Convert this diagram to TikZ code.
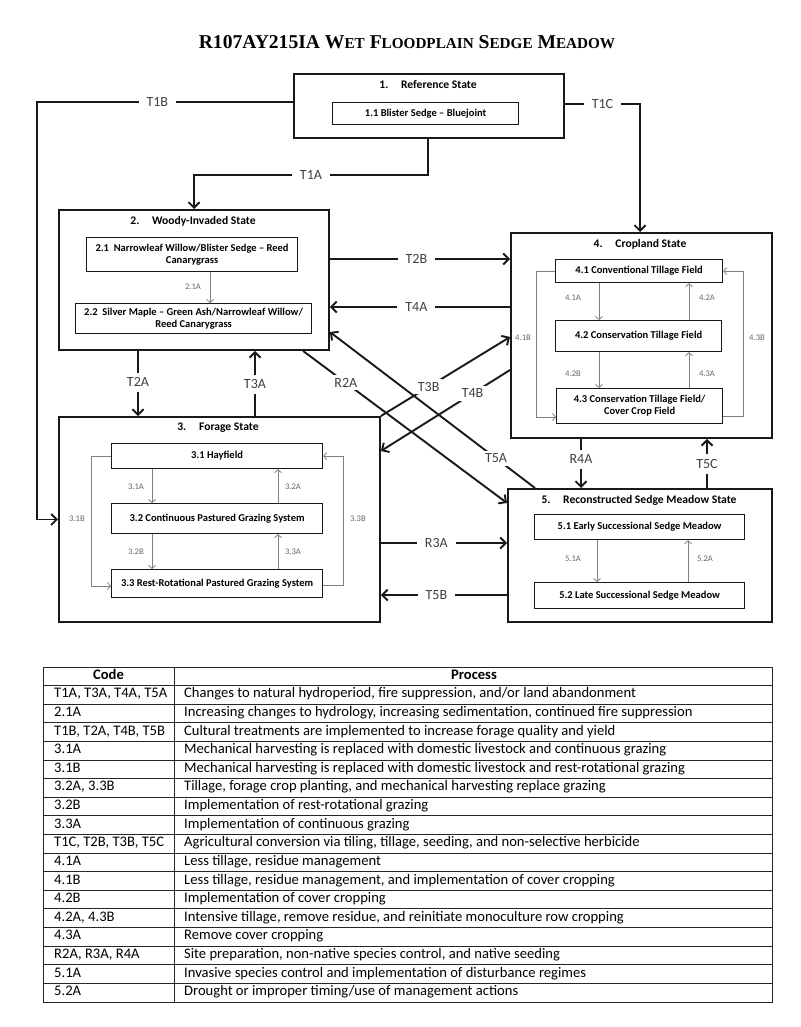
\documentclass[tikz,border=0pt]{standalone}
\usepackage{fontspec}
\setmainfont{Carlito}
\newfontfamily\titlefont{Liberation Serif}
\usetikzlibrary{arrows.meta}
\newcommand\fsc[1]{{\fontsize{15.2}{18}\selectfont #1}}
\newcommand\trow[3]{%
  \node[tcell] (code#1) at (54,{667+(#1+0.5)*18.61}) {#2};
  \node[tcell] (proc#1) at (184,{667+(#1+0.5)*18.61}) {#3};}
\tikzset{
  sbox/.style={draw=black!90, line width=1.9pt, inner sep=0pt, anchor=north west},
  ibox/.style={draw=black!90, line width=1.2pt, inner sep=0pt, anchor=north west, align=center,
    font=\bfseries\fontsize{10.5}{12}\selectfont},
  stitle/.style={font=\bfseries\fontsize{11.6}{13}\selectfont, inner sep=0pt},
  conn/.style={draw=black!90, line width=1.9pt, -{Straight Barb[length=5.5pt,width=11pt]}},
  lbl/.style={fill=white, text=black!75, font=\fontsize{14}{16}\selectfont, inner xsep=8pt, inner ysep=5pt},
  dlbl/.style={lbl, inner xsep=3pt, inner ysep=3pt},
  iconn/.style={draw=black!50, line width=0.8pt, -{Straight Barb[length=3pt,width=7pt]}},
  ilbl/.style={text=black!60, font=\fontsize{8.6}{10}\selectfont, inner sep=1pt},
  tline/.style={draw=black!85, line width=0.9pt},
  tcell/.style={anchor=west, font=\fontsize{14.6}{16}\selectfont, text height=1.6ex, text depth=0.35ex, inner sep=0pt},
  thead/.style={tcell, anchor=center, font=\bfseries\fontsize{14.6}{16}\selectfont},
}
\begin{document}
\begin{tikzpicture}[x=1pt,y=-1pt]
\useasboundingbox[fill=white] (0,0) rectangle (800,1027);
\node[font=\titlefont\bfseries\fontsize{19.6}{24}\selectfont, inner sep=0pt] (title) at (407,42)
  {R107AY215IA W\fsc{ET} F\fsc{LOODPLAIN} S\fsc{EDGE} M\fsc{EADOW}};

% state boxes
\node[sbox, minimum width=270pt, minimum height=64pt] (s1) at (293,73) {};
\node[sbox, minimum width=270pt, minimum height=140pt] (s2) at (58,209) {};
\node[sbox, minimum width=321pt, minimum height=205pt] (s3) at (58,416) {};
\node[sbox, minimum width=261pt, minimum height=205pt] (s4) at (510,232) {};
\node[sbox, minimum width=264pt, minimum height=133pt] (s5) at (507,488) {};

\node[stitle] (t1) at (428,85) {1.\hspace{1.1em}Reference State};
\node[stitle] (t2) at (193,221) {2.\hspace{1.1em}Woody-Invaded State};
\node[stitle] (t3) at (218,428) {3.\hspace{1.1em}Forage State};
\node[stitle] (t4) at (640,244) {4.\hspace{1.1em}Cropland State};
\node[stitle] (t5) at (639,500) {5.\hspace{1.1em}Reconstructed Sedge Meadow State};

% community boxes
\node[ibox, minimum width=186pt, minimum height=22pt] (b11) at (332,102) {1.1 Blister Sedge – Bluejoint};
\node[ibox, minimum width=211pt, minimum height=34pt] (b21) at (86,237) {2.1\ \ Narrowleaf Willow/Blister Sedge – Reed\\Canarygrass};
\node[ibox, minimum width=236pt, minimum height=30pt] (b22) at (75,303) {2.2\ \ Silver Maple – Green Ash/Narrowleaf Willow/\\Reed Canarygrass};
\node[ibox, minimum width=211pt, minimum height=25pt] (b31) at (111,443) {3.1 Hayfield};
\node[ibox, minimum width=211pt, minimum height=30pt] (b32) at (111,503) {3.2 Continuous Pastured Grazing System};
\node[ibox, minimum width=211pt, minimum height=28pt] (b33) at (111,569) {3.3 Rest-Rotational Pastured Grazing System};
\node[ibox, minimum width=167pt, minimum height=23pt] (b41) at (555,259) {4.1 Conventional Tillage Field};
\node[ibox, minimum width=166pt, minimum height=31pt] (b42) at (555,320) {4.2 Conservation Tillage Field};
\node[ibox, minimum width=166pt, minimum height=35pt] (b43) at (556,388) {4.3 Conservation Tillage Field/\\Cover Crop Field};
\node[ibox, minimum width=210pt, minimum height=25pt] (b51) at (534,514) {5.1 Early Successional Sedge Meadow};
\node[ibox, minimum width=210pt, minimum height=26pt] (b52) at (534,582) {5.2 Late Successional Sedge Meadow};

% transitions between states
\draw[conn] (s1.west |- 0,102) -- node[lbl,pos=0.53]{T1B} ++(-256,0) |- (s3.west);
\draw[conn] (s1.south -| 428,0) -- ++(0,36) -| node[lbl,pos=0.25]{T1A} (s2.north -| 194,0);
\draw[conn] (s1.east |- 0,104) -| node[lbl,pos=0.25]{T1C} (s4.north -| 640,0);
\draw[conn] (s2.east |- 0,259) -- node[lbl,pos=0.48]{T2B} (s4.west |- 0,259);
\draw[conn] (s4.west |- 0,307) -- node[lbl,pos=0.52]{T4A} (s2.east |- 0,307);
\draw[conn] (s2.south -| 138,0) -- node[lbl,pos=0.48]{T2A} (s3.north -| 138,0);
\draw[conn] (s3.north -| 255,0) -- node[lbl,pos=0.49]{T3A} (s2.south -| 255,0);
\draw[conn] (s3.east |- 0,543) -- node[lbl,pos=0.44]{R3A} (s5.west |- 0,543);
\draw[conn] (s5.west |- 0,595) -- node[lbl,pos=0.56]{T5B} (s3.east |- 0,595);
\draw[conn] (s4.south -| 581,0) -- node[lbl,pos=0.41]{R4A} (s5.north -| 581,0);
\draw[conn] (s5.north -| 707,0) -- node[lbl,pos=0.49]{T5C} (s4.south -| 707,0);
\draw[conn] (s3.north east) -- node[dlbl,pos=0.37]{T3B} (s4.west |- 0,337);
\draw[conn] (s4.west |- 0,370) -- node[dlbl,pos=0.29]{T4B} (s3.east |- 0,451);
\draw[conn] (s2.south -| 303,0) -- node[dlbl,pos=0.21]{R2A} (s5.west |- 0,503);
\draw[conn] (s5.north -| 535,0) -- node[dlbl,pos=0.19]{T5A} (s2.east |- 0,332);

% community pathways
\draw[iconn] (b21.south -| 210,0) -- (b22.north -| 210,0);
\node[ilbl] (l21a) at (193,287) {2.1A};

\draw[iconn] (b31.south -| 152,0) -- (b32.north -| 152,0);
\draw[iconn] (b32.north -| 278,0) -- (b31.south -| 278,0);
\draw[iconn] (b32.south -| 152,0) -- (b33.north -| 152,0);
\draw[iconn] (b33.north -| 278,0) -- (b32.south -| 278,0);
\draw[iconn] (b31.west) -- ++(-20,0) |- (b33.west |- 0,586);
\draw[iconn] (b33.east |- 0,585) -- ++(20,0) |- (b31.east);
\node[ilbl] (l31a) at (136,487) {3.1A};
\node[ilbl] (l32a) at (293,487) {3.2A};
\node[ilbl] (l32b) at (136,552) {3.2B};
\node[ilbl] (l33a) at (293,552) {3.3A};
\node[ilbl] (l31b) at (77,519) {3.1B};
\node[ilbl] (l33b) at (358,519) {3.3B};

\draw[iconn] (b41.south -| 599,0) -- (b42.north -| 599,0);
\draw[iconn] (b42.north -| 689,0) -- (b41.south -| 689,0);
\draw[iconn] (b42.south -| 599,0) -- (b43.north -| 599,0);
\draw[iconn] (b43.north -| 689,0) -- (b42.south -| 689,0);
\draw[iconn] (b41.west) -- ++(-19,0) |- (b43.west |- 0,417);
\draw[iconn] (b43.east |- 0,416) -- ++(20,0) |- (b41.east);
\node[ilbl] (l41a) at (573,298) {4.1A};
\node[ilbl] (l42a) at (707,298) {4.2A};
\node[ilbl] (l42b) at (573,374) {4.2B};
\node[ilbl] (l43a) at (707,374) {4.3A};
\node[ilbl] (l41b) at (523,338) {4.1B};
\node[ilbl] (l43b) at (757,338) {4.3B};

\draw[iconn] (b51.south -| 597,0) -- (b52.north -| 597,0);
\draw[iconn] (b52.north -| 688,0) -- (b51.south -| 688,0);
\node[ilbl] (l51a) at (573,559) {5.1A};
\node[ilbl] (l52a) at (705,559) {5.2A};

% table
\draw[tline] (43,667) rectangle (772,1002);
\foreach \k in {1,...,17} \draw[tline] (43,{667+\k*18.61}) -- (772,{667+\k*18.61});
\draw[tline] (174,667) -- (174,1002);
\node[thead] (hcode) at (108.5,676.3) {Code};
\node[thead] (hproc) at (474,676.3) {Process};
\trow{1}{T1A, T3A, T4A, T5A}{Changes to natural hydroperiod, fire suppression, and/or land abandonment}
\trow{2}{2.1A}{Increasing changes to hydrology, increasing sedimentation, continued fire suppression}
\trow{3}{T1B, T2A, T4B, T5B}{Cultural treatments are implemented to increase forage quality and yield}
\trow{4}{3.1A}{Mechanical harvesting is replaced with domestic livestock and continuous grazing}
\trow{5}{3.1B}{Mechanical harvesting is replaced with domestic livestock and rest-rotational grazing}
\trow{6}{3.2A, 3.3B}{Tillage, forage crop planting, and mechanical harvesting replace grazing}
\trow{7}{3.2B}{Implementation of rest-rotational grazing}
\trow{8}{3.3A}{Implementation of continuous grazing}
\trow{9}{T1C, T2B, T3B, T5C}{Agricultural conversion via tiling, tillage, seeding, and non-selective herbicide}
\trow{10}{4.1A}{Less tillage, residue management}
\trow{11}{4.1B}{Less tillage, residue management, and implementation of cover cropping}
\trow{12}{4.2B}{Implementation of cover cropping}
\trow{13}{4.2A, 4.3B}{Intensive tillage, remove residue, and reinitiate monoculture row cropping}
\trow{14}{4.3A}{Remove cover cropping}
\trow{15}{R2A, R3A, R4A}{Site preparation, non-native species control, and native seeding}
\trow{16}{5.1A}{Invasive species control and implementation of disturbance regimes}
\trow{17}{5.2A}{Drought or improper timing/use of management actions}
\end{tikzpicture}
\end{document}
